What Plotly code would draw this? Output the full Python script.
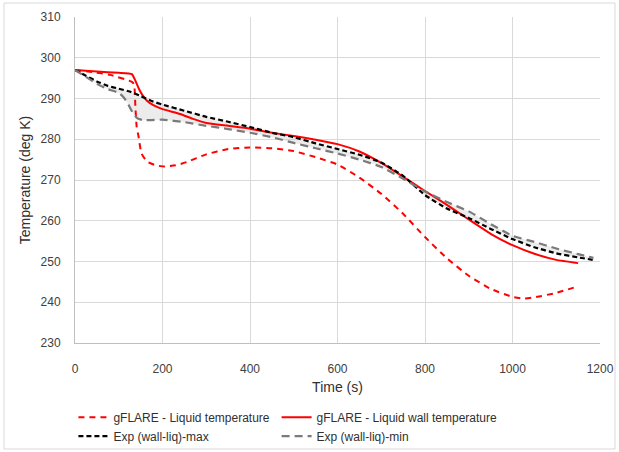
import plotly.graph_objects as go

# ---- data ----
t_liq = [0, 40, 80, 130, 135, 138, 141, 145, 152, 165, 185, 205, 230, 255, 300, 350, 400, 450, 500,
         550, 600, 650, 700, 750, 800, 850, 900, 950, 1000, 1025, 1050, 1100, 1140]
T_liq = [297.0, 296.5, 295.8, 294.1, 293.5, 288.0, 283.0, 280.8, 276.5, 274.5, 273.6, 273.3, 273.6, 274.4,
         276.3, 277.6, 278.0, 277.8, 277.1, 275.6, 273.8, 270.6, 266.6, 261.7, 256.0, 250.8, 246.5, 243.3,
         241.3, 240.9, 241.2, 242.3, 243.6]

t_wall = [0, 50, 100, 130, 138, 146, 155, 165, 180, 200, 240, 270, 300, 350, 400, 450, 500, 550, 600,
          650, 700, 750, 800, 850, 900, 950, 1000, 1050, 1100, 1150]
T_wall = [297.0, 296.6, 296.3, 296.0, 294.4, 292.4, 290.7, 289.4, 288.3, 287.4, 286.2, 285.0, 284.0, 283.3,
          282.6, 281.6, 280.8, 279.9, 278.8, 277.0, 274.2, 270.8, 267.3, 263.9, 260.3, 256.8, 254.0, 251.9,
          250.4, 249.6]

t_max = [0, 25, 50, 75, 100, 125, 150, 175, 200, 250, 300, 350, 400, 450, 500, 550, 600, 650, 700, 750,
         800, 850, 900, 950, 1000, 1050, 1100, 1150, 1190]
T_max = [297.0, 295.6, 294.2, 293.1, 292.4, 291.7, 290.6, 289.4, 288.5, 287.0, 285.5, 284.3, 283.0, 281.6,
         280.5, 279.0, 277.6, 276.2, 274.3, 271.0, 266.3, 263.0, 260.7, 258.0, 255.5, 253.5, 252.0, 251.0,
         250.3]

t_min = [0, 25, 50, 75, 100, 112, 122, 132, 142, 155, 175, 200, 250, 300, 350, 400, 450, 500, 550, 600, 650,
         700, 750, 800, 850, 900, 950, 1000, 1050, 1100, 1150, 1185]
T_min = [297.0, 295.3, 293.6, 292.3, 291.4, 290.2, 288.5, 286.5, 285.2, 284.7, 284.7, 284.8, 284.2, 283.3,
         282.5, 281.6, 280.5, 279.1, 277.8, 276.5, 275.0, 273.2, 270.3, 267.2, 264.6, 262.3, 259.2, 256.3,
         254.8, 253.2, 251.8, 250.9]

x_ticks = [0, 200, 400, 600, 800, 1000, 1200]
y_ticks = [230, 240, 250, 260, 270, 280, 290, 300, 310]

names = ["gFLARE - Liquid temperature", "gFLARE - Liquid wall temperature",
         "Exp (wall-liq)-max", "Exp (wall-liq)-min"]

FONT = "Liberation Sans"
SM = 0.5

fig = go.Figure()
# shaded band between experimental max and min
fig.add_trace(go.Scatter(x=t_max, y=T_max, mode="lines", line=dict(width=0, shape="spline", smoothing=SM),
                         showlegend=False, hoverinfo="skip"))
fig.add_trace(go.Scatter(x=t_min, y=T_min, mode="lines", line=dict(width=0, shape="spline", smoothing=SM),
                         fill="tonexty", fillcolor="rgba(200,200,200,0.35)", showlegend=False,
                         hoverinfo="skip"))

fig.add_trace(go.Scatter(x=t_liq, y=T_liq, mode="lines", name=names[0], legend="legend",
                         line=dict(color="#FF0000", width=2, dash="6px,5px", shape="spline", smoothing=SM)))
fig.add_trace(go.Scatter(x=t_wall, y=T_wall, mode="lines", name=names[1], legend="legend2",
                         line=dict(color="#FF0000", width=2, shape="spline", smoothing=0.4)))
fig.add_trace(go.Scatter(x=t_max, y=T_max, mode="lines", name=names[2], legend="legend",
                         line=dict(color="#000000", width=2.2, dash="5px,3px", shape="spline", smoothing=SM)))
fig.add_trace(go.Scatter(x=t_min, y=T_min, mode="lines", name=names[3], legend="legend2",
                         line=dict(color="#7a7a7a", width=2.2, dash="8px,5px", shape="spline", smoothing=SM)))

# outer chart border
fig.add_shape(type="rect", xref="paper", yref="paper",
              x0=(4 - 75) / 525, x1=(615 - 75) / 525, y0=(343 - 449) / 326, y1=(343 - 3) / 326,
              line=dict(color="#d9d9d9", width=1), fillcolor="rgba(0,0,0,0)", layer="below")

leg_common = dict(orientation="v", yanchor="top", xanchor="left", font=dict(size=12, color="#303030"),
                  itemwidth=30, tracegroupgap=0, bgcolor="rgba(0,0,0,0)", traceorder="normal")

fig.update_layout(
    width=619, height=452,
    margin=dict(l=75, r=19, t=17, b=109, autoexpand=False),
    paper_bgcolor="white", plot_bgcolor="white",
    font=dict(family=FONT, size=12, color="#404040"),
    showlegend=True,
    legend=dict(x=-0.003, y=-0.183, **leg_common),
    legend2=dict(x=0.384, y=-0.183, **leg_common),
    xaxis=dict(range=[0, 1200], tickvals=x_ticks, showgrid=True, gridcolor="#d9d9d9", gridwidth=1,
               showline=True, linecolor="#bfbfbf", linewidth=1, zeroline=False,
               ticks="outside", ticklen=15, tickcolor="rgba(0,0,0,0)",
               title=dict(text="Time (s)", font=dict(size=14, color="#303030"), standoff=6)),
    yaxis=dict(range=[230, 310], tickvals=y_ticks, showgrid=True, gridcolor="#d9d9d9", gridwidth=1,
               showline=True, linecolor="#bfbfbf", linewidth=1, zeroline=False,
               ticks="outside", ticklen=11, tickcolor="rgba(0,0,0,0)",
               title=dict(text="Temperature (deg K)", font=dict(size=14, color="#303030"), standoff=6)),
)

fig.write_html("out.html")
